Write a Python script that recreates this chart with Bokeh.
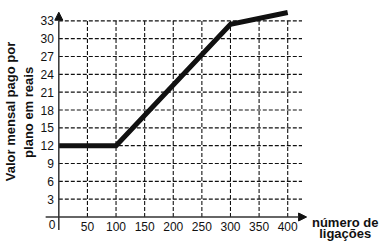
from bokeh.plotting import figure
from bokeh.models import Arrow, NormalHead, Range1d
from bokeh.core.properties import value
from bokeh.embed import file_html
from bokeh.resources import INLINE

# data
calls = [0, 100, 300, 400]
reais = [12, 12, 32.4, 34.4]
x_ticks = [50, 100, 150, 200, 250, 300, 350, 400]
x_tick_labels = [str(v) for v in x_ticks]
y_ticks = [3, 6, 9, 12, 15, 18, 21, 24, 27, 30, 33]
y_tick_labels = [str(v) for v in y_ticks]
x_title = ["número de", "ligações"]
y_title = ["Valor mensal pago por", "plano em reais"]

FONT = value("Liberation Sans")
INK = "#111111"

p = figure(width=383, height=241, x_range=Range1d(-101.9, 567.4), y_range=Range1d(-4.12, 36.42),
           output_backend="svg", toolbar_location=None, min_border=0,
           x_axis_location=None, y_axis_location=None, outline_line_color=None,
           background_fill_color="white", border_fill_color="white")
p.grid.grid_line_color = None

gx_max = 425
gy_max = y_ticks[-1]

# grid
p.segment(x0=x_ticks, y0=[0] * len(x_ticks), x1=x_ticks, y1=[gy_max] * len(x_ticks),
          line_dash="4 2", line_color=INK, line_width=1.1)
p.segment(x0=[0] * len(y_ticks), y0=y_ticks, x1=[gx_max] * len(y_ticks), y1=y_ticks,
          line_dash="4 2", line_color=INK, line_width=1.1)

# main line
p.line(calls, reais, line_width=5, line_color="#111111", line_join="miter")

# axes with arrows
p.add_layout(Arrow(end=NormalHead(size=8, fill_color=INK, line_color=INK),
                   x_start=0, y_start=-2.2, x_end=0, y_end=34.45,
                   line_width=1.5, line_color="#333333"))
p.add_layout(Arrow(end=NormalHead(size=8, fill_color=INK, line_color=INK),
                   x_start=-23, y_start=0, x_end=433, y_end=0,
                   line_width=1.5, line_color="#333333"))

# tick labels
p.text(x=[0] * len(y_ticks), y=y_ticks, text=y_tick_labels, x_offset=-5,
       text_align="right", text_baseline="middle", text_font=FONT,
       text_font_size="12px", text_color=INK)
p.text(x=x_ticks, y=[0] * len(x_ticks), text=x_tick_labels, y_offset=9,
       text_align="center", text_baseline="middle", text_font=FONT,
       text_font_size="12px", text_color=INK)
p.text(x=[0], y=[0], text=["0"], x_offset=-3.5, y_offset=7.5,
       text_align="right", text_baseline="middle", text_font=FONT,
       text_font_size="12px", text_color=INK)

# axis titles
p.text(x=[500.5, 500.5], y=[-0.87, -2.72], text=x_title,
       text_align="center", text_baseline="alphabetic", text_font=FONT,
       text_font_size="13px", text_font_style="bold", text_color=INK)
p.text(x=[-84.4, -53.8], y=[17.75, 17.6], text=y_title, angle=1.5708,
       text_align="center", text_baseline="middle", text_font=FONT,
       text_font_size="13px", text_font_style="bold", text_color=INK)

open("out.html", "w").write(file_html(p, INLINE))
